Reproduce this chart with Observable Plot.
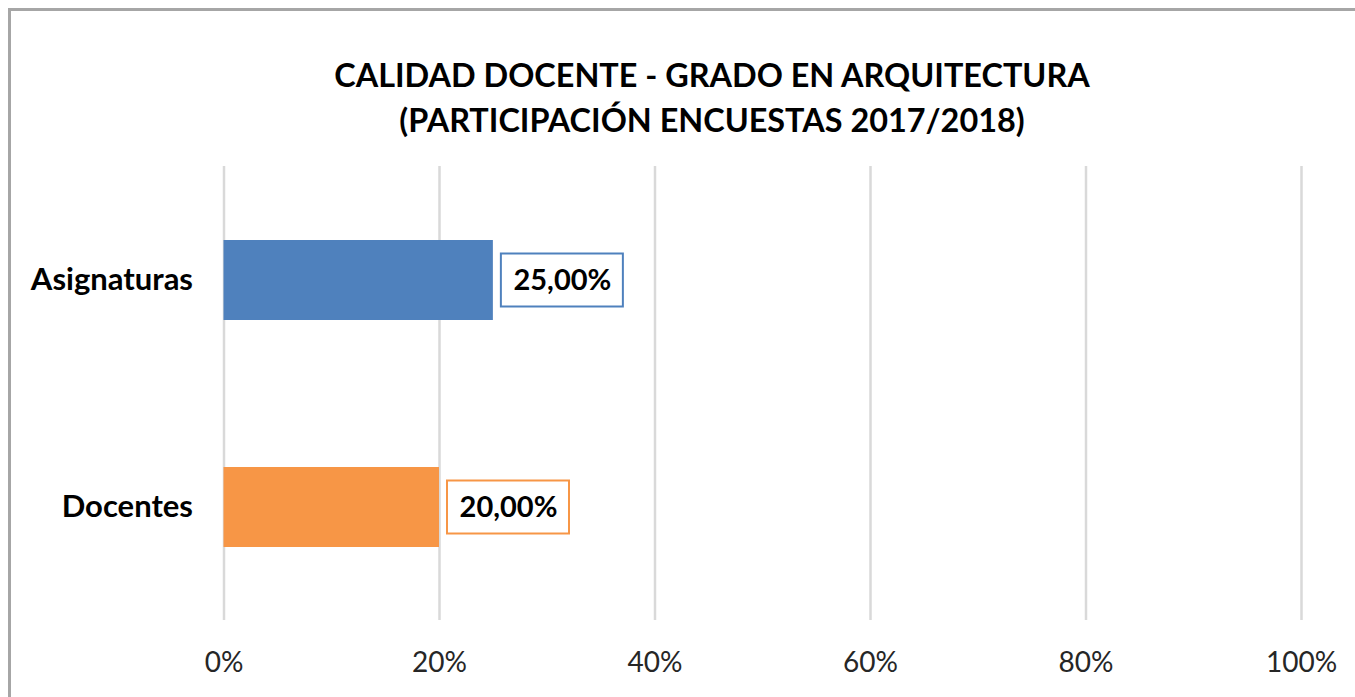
<!DOCTYPE html>
<html>
<head>
<meta charset="utf-8">
<script src="https://cdn.jsdelivr.net/npm/d3@7"></script>
<script src="https://cdn.jsdelivr.net/npm/@observablehq/plot@0.6"></script>
<style>
  html, body { margin: 0; padding: 0; background: #fff; overflow: hidden; }
  body { width: 1355px; height: 697px; position: relative; font-family: Lato, sans-serif; }
  #frame { position: absolute; left: 8px; top: 8px; width: 1410px; height: 740px; border: 3px solid #a6a6a6; box-sizing: border-box; }
  #wrap { position: absolute; left: 0; top: 0; width: 1355px; }
  #title { width: 1424px; height: 150px; box-sizing: border-box; padding-top: 52px; text-align: center;
           font-family: Lato, sans-serif; font-weight: 700; font-size: 32.4px; line-height: 45px; color: #000; }
  #chart svg { display: block; }
</style>
</head>
<body>
<div id="frame"></div>
<div id="wrap">
  <div id="title">CALIDAD DOCENTE - GRADO EN ARQUITECTURA<br>(PARTICIPACIÓN ENCUESTAS 2017/2018)</div>
  <div id="chart"></div>
</div>
<script>
const categories = ["Asignaturas", "Docentes"];
const values = [0.25, 0.20];
const valueLabels = ["25,00%", "20,00%"];
const colors = ["#4f81bd", "#f79646"];
const ticks = [0, 0.2, 0.4, 0.6, 0.8, 1];
const tickLabels = ["0%", "20%", "40%", "60%", "80%", "100%"];

const data = categories.map((c, i) => ({category: c, value: values[i], label: valueLabels[i]}));

const chart = Plot.plot({
  width: 1355,
  height: 547,
  marginLeft: 223.5,
  marginRight: 54,
  marginTop: 16,
  marginBottom: 77,
  style: {fontFamily: "Lato, sans-serif", background: "transparent", overflow: "visible"},
  x: {domain: [0, 1], label: null},
  y: {domain: categories, paddingInner: 0.6476, paddingOuter: 0.3238, label: null},
  color: {domain: categories, range: colors},
  marks: [
    Plot.gridX(ticks, {stroke: "#d9d9d9", strokeOpacity: 1, strokeWidth: 2.5}),
    Plot.barX(data, {x: "value", y: "category", fill: "category"}),
    Plot.barX(data, {x1: "value", x2: "value", y: "category", stroke: "category", fill: "white",
      strokeWidth: 2, insetLeft: 8, insetRight: -130, insetTop: 13.5, insetBottom: 13.5}),
    Plot.text(data, {x: "value", y: "category", text: "label", dx: 69, textAnchor: "middle",
      fontWeight: "bold", fontSize: 29, fill: "#000"}),
    Plot.axisX(ticks, {anchor: "bottom", tickSize: 0, tickPadding: 32, fontSize: 28, fill: "#262626",
      label: null, tickFormat: d => tickLabels[ticks.indexOf(d)]}),
    Plot.axisY({tickSize: 0, tickPadding: 31, fontSize: 31, fontWeight: "bold", fill: "#000", label: null})
  ]
});
document.getElementById("chart").appendChild(chart);
</script>
</body>
</html>
